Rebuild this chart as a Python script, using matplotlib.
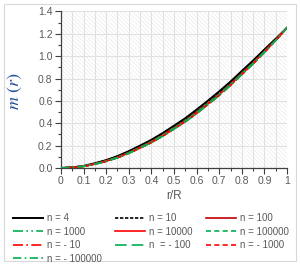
import numpy as np
import matplotlib
matplotlib.use('Agg')
import matplotlib.pyplot as plt
from matplotlib.patches import Rectangle
from matplotlib.ticker import MultipleLocator

plt.rcParams['font.family'] = ['Liberation Sans', 'DejaVu Sans']
plt.rcParams['mathtext.fontset'] = 'stix'
plt.rcParams['hatch.linewidth'] = 0.5

# r/R sample points
r = [0.0, 0.05, 0.1, 0.15, 0.2, 0.25, 0.3, 0.35, 0.4, 0.45, 0.5,
     0.55, 0.6, 0.65, 0.7, 0.75, 0.8, 0.85, 0.9, 0.95, 1.0]

# m(r) (black curves sit a little above the rest)
m_n4 = [0.0, 0.005, 0.018, 0.042, 0.070, 0.106, 0.150, 0.200, 0.252, 0.312, 0.378,
        0.445, 0.522, 0.602, 0.685, 0.773, 0.868, 0.962, 1.060, 1.157, 1.255]
m_n10 = [0.0, 0.005, 0.017, 0.040, 0.068, 0.103, 0.146, 0.195, 0.247, 0.306, 0.371,
         0.438, 0.514, 0.594, 0.677, 0.765, 0.860, 0.955, 1.054, 1.152, 1.255]
m_pos = [0.0, 0.004, 0.015, 0.036, 0.062, 0.095, 0.136, 0.184, 0.234, 0.293, 0.357,
         0.422, 0.497, 0.577, 0.659, 0.748, 0.845, 0.940, 1.042, 1.146, 1.255]
m_neg = [0.0, 0.004, 0.014, 0.034, 0.059, 0.091, 0.131, 0.178, 0.227, 0.285, 0.349,
         0.414, 0.488, 0.568, 0.650, 0.740, 0.837, 0.933, 1.036, 1.142, 1.255]

labels = ['n = 4', 'n = 10', 'n = 100', 'n = 1000', 'n = 10000', 'n = 100000',
          'n = - 10', 'n  = - 100', 'n = - 1000', 'n = - 100000']
series = [m_n4, m_n10, m_pos, m_pos, m_pos, m_pos, m_neg, m_neg, m_neg, m_neg]

RED = '#FF0000'
DRED = '#C00000'
GREEN = '#00B050'
styles = [
    dict(color='black', lw=1.4, ls='-'),
    dict(color='black', lw=1.2, ls=(0, (2, 1))),
    dict(color=DRED, lw=1.2, ls='-'),
    dict(color=GREEN, lw=1.2, ls=(0, (6, 2, 1, 2, 1, 2))),
    dict(color=RED, lw=1.2, ls='-'),
    dict(color=GREEN, lw=1.2, ls=(0, (3, 2))),
    dict(color=RED, lw=1.2, ls=(0, (6, 2, 1, 2))),
    dict(color=GREEN, lw=1.2, ls=(0, (7, 3))),
    dict(color=RED, lw=1.2, ls=(0, (3, 2))),
    dict(color=GREEN, lw=1.2, ls=(0, (5, 2, 1, 2))),
]

fig = plt.figure(figsize=(3.0, 2.67), dpi=100)
fig.patches.append(Rectangle((4 / 300, 6 / 267), 292 / 300, 257 / 267,
                             transform=fig.transFigure, fill=False,
                             edgecolor='#D9D9D9', lw=0.8))
ax = fig.add_axes([0.203, 0.371, 0.754, 0.586])

# hatched plot area
ax.add_patch(Rectangle((0, 0), 1, 1, transform=ax.transAxes, facecolor='white',
                       edgecolor='#EBEBEB', hatch='\\' * 8, lw=0, zorder=0))

lines = []
for y, st, lab in zip(series, styles, labels):
    ln, = ax.plot(r, y, label=lab, **st, zorder=3)
    lines.append(ln)

ax.set_xlim(0, 1)
ax.set_ylim(0, 1.4)
ax.xaxis.set_minor_locator(MultipleLocator(0.05))
ax.yaxis.set_minor_locator(MultipleLocator(0.1))
ax.set_xticks(np.arange(0, 1.01, 0.1))
ax.set_xticklabels(['0', '0.1', '0.2', '0.3', '0.4', '0.5', '0.6', '0.7', '0.8', '0.9', '1'])
ax.set_yticks(np.arange(0, 1.41, 0.2))
ax.set_yticklabels([f'{v:.1f}' for v in np.arange(0, 1.41, 0.2)])

ax.grid(True, which='both', axis='x', color='#E0E0E0', lw=0.7, zorder=1)
ax.grid(True, which='major', axis='y', color='#E0E0E0', lw=0.7, zorder=1)
ax.set_axisbelow(True)

for s in ['top', 'right']:
    ax.spines[s].set_visible(False)
for s in ['left', 'bottom']:
    ax.spines[s].set_color('#404040')
    ax.spines[s].set_linewidth(0.9)
ax.tick_params(which='major', direction='out', length=4, width=0.8, color='#404040',
               labelsize=7.5, labelcolor='#595959', pad=2)
ax.tick_params(which='minor', direction='out', length=2.5, width=0.8, color='#404040')

ax.set_xlabel('r/R', fontsize=8.5, color='#595959', labelpad=3)
fig.text(0.05, 0.66, r'$m\ (r)$', rotation=90, fontsize=13, color='#1F4E99',
         ha='center', va='center')

order = [0, 3, 6, 9, 1, 4, 7, 2, 5, 8]
fig.legend([lines[i] for i in order], [labels[i] for i in order],
           loc='upper left', bbox_to_anchor=(0.03, 0.215), ncol=3, frameon=False,
           fontsize=7, labelcolor='#595959', handlelength=3.1, handletextpad=0.4,
           columnspacing=1.35, labelspacing=0.35, borderaxespad=0)

fig.savefig('out.png', dpi=100)
